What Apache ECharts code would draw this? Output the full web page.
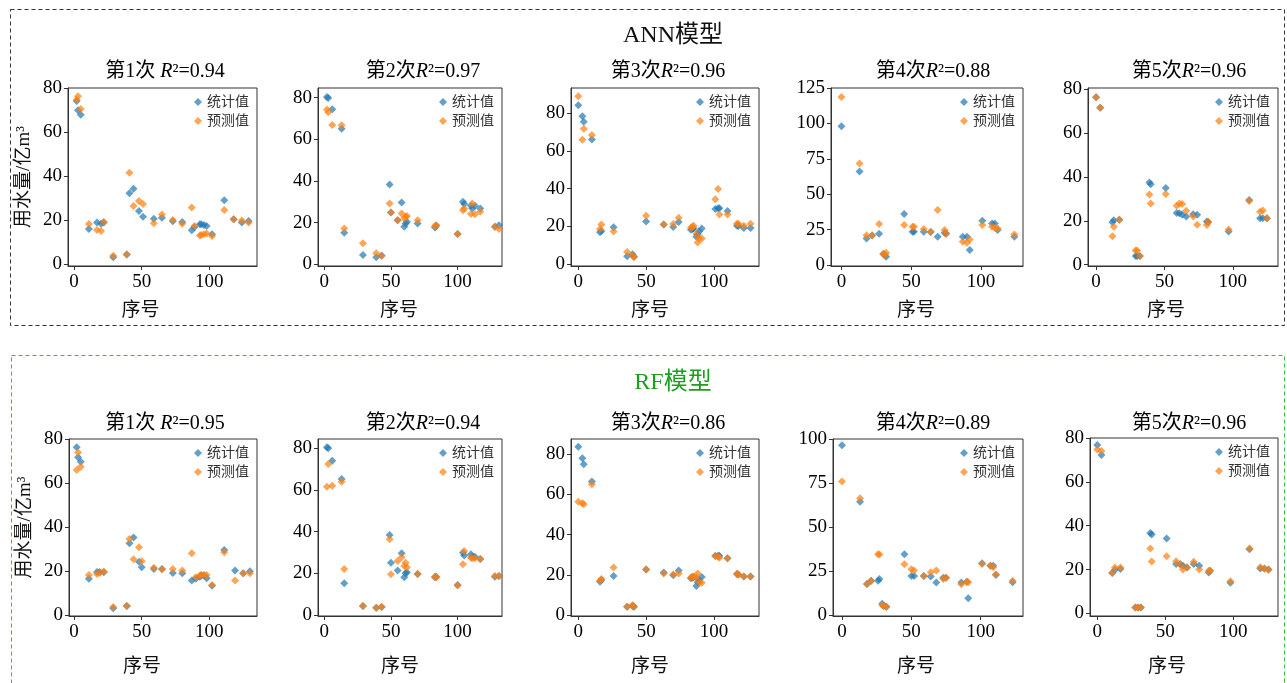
<!DOCTYPE html>
<html>
<head>
<meta charset="utf-8">
<script src="https://cdn.jsdelivr.net/npm/echarts@6/dist/echarts.min.js"></script>
<style>
html, body { margin: 0; padding: 0; background: #fff; }
#chart { width: 1287px; height: 683px; }
</style>
</head>
<body>
<div id="chart"></div>
<script>
// ---------- ANN 模型 ----------
const ann1Idx  = [2, 3, 5, 11, 17, 20, 22, 29, 39, 41, 44, 48, 51, 59, 65, 73, 80, 87, 89, 93, 94, 96, 98, 102, 111, 118, 124, 129];
const ann1Obs  = [74.1, 69.9, 67.9, 16.0, 19.0, 18.4, 19.0, 3.2, 4.4, 32.2, 34.3, 24.2, 21.6, 20.7, 21.1, 19.5, 19.2, 15.4, 16.8, 18.1, 18.1, 17.8, 17.4, 13.6, 29.1, 20.4, 19.0, 19.6];
const ann1Pred = [74.7, 76.2, 70.5, 18.3, 15.5, 15.1, 19.2, 3.9, 4.4, 41.5, 26.4, 28.7, 27.3, 18.6, 22.6, 20.1, 18.4, 25.8, 17.4, 13.1, 13.3, 13.6, 13.9, 12.8, 24.6, 20.4, 19.8, 19.0];

const ann2Idx  = [2, 3, 6, 13, 15, 29, 39, 43, 49, 50, 55, 58, 60, 61, 62, 70, 83, 84, 100, 104, 105, 110, 111, 113, 117, 128, 131];
const ann2Obs  = [80.3, 79.8, 74.4, 65.0, 15.2, 4.5, 3.4, 4.2, 38.3, 24.9, 21.2, 29.7, 18.0, 19.6, 20.4, 19.6, 17.7, 18.5, 14.5, 30.0, 28.9, 28.1, 26.8, 28.1, 26.8, 18.0, 18.8];
const ann2Pred = [74.3, 73.0, 66.9, 66.7, 17.2, 10.1, 5.3, 4.0, 29.2, 24.9, 21.2, 24.4, 22.0, 22.8, 23.2, 21.2, 18.4, 18.8, 14.5, 26.0, 26.8, 24.1, 29.2, 24.0, 25.2, 18.0, 16.9];

const ann3Idx  = [0, 3, 4, 10, 16, 17, 26, 36, 40, 41, 50, 63, 70, 74, 83, 84, 85, 87, 88, 89, 91, 101, 103, 104, 110, 117, 118, 122, 127];
const ann3Obs  = [84.2, 78.4, 75.4, 66.1, 16.9, 17.6, 19.6, 4.2, 5.3, 4.1, 22.6, 21.1, 19.7, 22.4, 18.3, 18.7, 18.9, 14.6, 15.9, 17.4, 18.9, 29.3, 29.6, 29.6, 28.2, 20.4, 20.3, 19.2, 19.2];
const ann3Pred = [89.0, 65.9, 71.7, 68.4, 18.7, 21.0, 17.3, 6.5, 4.6, 3.7, 25.7, 21.1, 21.3, 24.7, 19.4, 19.9, 20.4, 16.0, 11.6, 13.6, 13.6, 34.4, 39.8, 26.4, 26.4, 21.5, 21.5, 20.4, 21.5];

const ann4Idx  = [0, 13, 18, 22, 27, 30, 31, 32, 45, 51, 52, 59, 64, 69, 74, 75, 87, 90, 92, 101, 108, 110, 112, 124];
const ann4Obs  = [98.0, 66.0, 18.8, 20.9, 22.1, 7.8, 7.3, 5.9, 36.0, 23.5, 23.5, 23.5, 23.3, 19.9, 22.8, 22.3, 20.0, 20.0, 10.6, 31.3, 29.4, 29.4, 24.7, 20.0];
const ann4Pred = [118.7, 71.7, 21.1, 21.1, 28.9, 7.8, 7.3, 8.7, 28.2, 27.0, 27.0, 25.4, 23.5, 38.8, 24.7, 21.9, 16.4, 15.7, 18.1, 28.2, 27.0, 26.3, 25.8, 21.6];

const ann5Idx  = [0, 3, 12, 13, 17, 29, 30, 32, 39, 40, 51, 59, 61, 63, 66, 71, 74, 81, 82, 97, 112, 120, 122, 125];
const ann5Obs  = [76.3, 71.5, 19.3, 20.3, 20.5, 3.9, 3.9, 4.0, 37.4, 36.6, 34.9, 23.5, 23.4, 22.8, 22.0, 23.0, 22.8, 19.7, 19.3, 15.1, 29.5, 21.2, 21.2, 21.2];
const ann5Pred = [76.3, 71.5, 13.0, 17.3, 20.5, 6.5, 6.5, 4.0, 32.0, 27.9, 32.2, 26.8, 27.9, 27.6, 24.6, 22.0, 18.2, 18.1, 19.7, 16.0, 29.0, 24.1, 24.7, 21.2];

// ---------- RF 模型 ----------
const rf1Idx  = [2, 3, 5, 11, 17, 19, 22, 29, 39, 41, 44, 48, 50, 59, 65, 73, 80, 87, 90, 93, 94, 96, 98, 102, 111, 119, 125, 130];
const rf1Obs  = [76.2, 71.7, 69.7, 16.4, 19.5, 19.5, 19.4, 3.0, 4.1, 32.6, 35.2, 24.2, 21.7, 20.9, 20.9, 19.1, 18.9, 15.6, 16.4, 17.4, 17.9, 17.9, 16.7, 13.3, 29.5, 20.2, 18.9, 19.8];
const rf1Pred = [65.9, 73.9, 67.4, 18.2, 18.6, 19.0, 19.7, 3.6, 4.1, 34.5, 25.3, 30.8, 24.4, 21.4, 20.8, 20.9, 20.2, 28.0, 17.1, 17.9, 18.3, 18.2, 18.2, 13.6, 28.5, 15.6, 18.9, 18.9];

const rf2Idx  = [2, 3, 6, 13, 15, 29, 39, 43, 49, 50, 55, 58, 60, 61, 62, 70, 83, 84, 100, 104, 105, 110, 111, 113, 117, 128, 131];
const rf2Obs  = [80.5, 80.0, 74.1, 65.3, 15.2, 4.3, 3.5, 3.8, 38.4, 25.1, 21.3, 29.6, 18.1, 20.0, 20.5, 19.7, 18.1, 18.4, 14.4, 29.9, 28.6, 29.1, 28.0, 28.0, 26.9, 18.4, 18.7];
const rf2Pred = [61.6, 72.5, 62.1, 64.0, 22.1, 4.3, 3.5, 4.0, 36.3, 19.5, 25.9, 27.7, 23.5, 25.1, 22.9, 19.7, 18.4, 18.1, 14.1, 24.3, 30.7, 27.5, 27.2, 27.2, 26.9, 18.7, 18.7];

const rf3Idx  = [0, 3, 4, 10, 16, 17, 26, 36, 40, 41, 50, 63, 70, 74, 83, 84, 85, 87, 88, 89, 91, 101, 103, 104, 110, 117, 118, 122, 127];
const rf3Obs  = [83.8, 78.0, 75.0, 66.4, 16.6, 17.4, 19.4, 4.1, 4.5, 4.1, 22.7, 21.1, 19.8, 22.1, 18.3, 18.6, 18.8, 14.4, 16.3, 17.4, 18.9, 29.4, 29.5, 29.5, 28.2, 20.4, 20.2, 19.1, 19.1];
const rf3Pred = [56.4, 55.6, 55.1, 65.1, 17.1, 17.9, 23.7, 4.1, 5.0, 4.1, 22.7, 20.7, 20.2, 20.7, 18.6, 19.1, 19.1, 18.8, 20.7, 16.1, 16.1, 29.5, 29.0, 28.5, 28.2, 20.4, 20.2, 19.1, 19.1];

const rf4Idx  = [0, 13, 18, 21, 26, 27, 29, 30, 32, 45, 50, 52, 59, 64, 68, 73, 75, 86, 90, 91, 101, 107, 109, 111, 123];
const rf4Obs  = [96.4, 64.4, 17.6, 19.5, 19.5, 20.5, 6.3, 5.1, 4.7, 34.5, 22.2, 22.2, 22.2, 21.8, 18.4, 21.2, 21.2, 18.4, 18.9, 9.5, 29.4, 28.0, 28.0, 22.7, 18.6];
const rf4Pred = [75.8, 66.3, 17.6, 19.5, 34.5, 34.3, 5.7, 5.1, 4.7, 28.8, 25.9, 25.2, 22.2, 24.2, 25.2, 20.5, 21.2, 17.4, 18.9, 18.6, 29.0, 28.0, 27.1, 23.1, 19.5];

const rf5Idx  = [0, 3, 11, 13, 17, 28, 30, 32, 39, 40, 51, 58, 61, 63, 66, 71, 75, 82, 83, 98, 112, 120, 123, 126];
const rf5Obs  = [76.8, 72.3, 18.4, 19.9, 20.2, 2.7, 2.7, 2.7, 36.7, 36.0, 34.2, 22.5, 22.5, 21.7, 20.9, 22.5, 21.7, 18.7, 19.4, 14.0, 29.3, 20.5, 20.5, 20.0];
const rf5Pred = [74.8, 74.1, 18.5, 20.9, 20.9, 2.7, 2.7, 2.7, 29.6, 23.7, 26.1, 23.8, 22.3, 20.0, 20.9, 23.5, 20.0, 19.4, 19.4, 14.7, 29.6, 21.0, 20.3, 19.9];

const titles = ['第1次 ', '第2次', '第3次', '第4次', '第5次'];
const annR2 = ['0.94', '0.97', '0.96', '0.88', '0.96'];
const rfR2  = ['0.95', '0.94', '0.86', '0.89', '0.96'];
const xTicks = [0, 50, 100];
const yTicks80 = [0, 20, 40, 60, 80];
const yTicks125 = [0, 25, 50, 75, 100, 125];
const yTicks100 = [0, 25, 50, 75, 100];

const FONT = '"Liberation Serif", "Noto Sans CJK SC", serif';
const W = 1287;

// 每个子图的位置、坐标范围；sx 为“序号”向左的偏移
const panels = [
  { idx: ann1Idx, obs: ann1Obs, pred: ann1Pred, t: titles[0], r2: annR2[0], box: [68, 88, 189, 178], x: [-4.4, 135.2], y: [-0.8, 80], yt: yTicks80, tx: 160, ty: 57, sx: 22, ng: 36, yName: true },
  { idx: ann2Idx, obs: ann2Obs, pred: ann2Pred, t: titles[1], r2: annR2[1], box: [318, 88, 184, 178], x: [-4.7, 133.3], y: [-0.8, 84.6], yt: yTicks80, tx: 418, ty: 57, sx: 11, ng: 36 },
  { idx: ann3Idx, obs: ann3Obs, pred: ann3Pred, t: titles[2], r2: annR2[2], box: [571, 88, 188, 178], x: [-5.4, 133.2], y: [-0.9, 93.3], yt: yTicks80, tx: 663, ty: 57, sx: 15, ng: 36 },
  { idx: ann4Idx, obs: ann4Obs, pred: ann4Pred, t: titles[3], r2: annR2[3], box: [831, 88, 192, 178], x: [-7.5, 130.2], y: [-0.7, 125], yt: yTicks125, tx: 928, ty: 57, sx: 11, ng: 36 },
  { idx: ann5Idx, obs: ann5Obs, pred: ann5Pred, t: titles[4], r2: annR2[4], box: [1088, 88, 190, 178], x: [-5.9, 133.1], y: [-0.6, 80.5], yt: yTicks80, tx: 1184, ty: 57, sx: 17, ng: 36 },
  { idx: rf1Idx, obs: rf1Obs, pred: rf1Pred, t: titles[0], r2: rfR2[0], box: [69, 439, 188, 177], x: [-3.7, 135.2], y: [-0.5, 80], yt: yTicks80, tx: 160, ty: 409, sx: 21, ng: 42, yName: true },
  { idx: rf2Idx, obs: rf2Obs, pred: rf2Pred, t: titles[1], r2: rfR2[1], box: [318, 439, 184, 177], x: [-4.7, 133.3], y: [-0.5, 84.5], yt: yTicks80, tx: 418, ty: 409, sx: 10, ng: 42 },
  { idx: rf3Idx, obs: rf3Obs, pred: rf3Pred, t: titles[2], r2: rfR2[2], box: [571, 439, 188, 177], x: [-5.4, 133.2], y: [-0.5, 87.6], yt: yTicks80, tx: 663, ty: 409, sx: 15, ng: 42 },
  { idx: rf4Idx, obs: rf4Obs, pred: rf4Pred, t: titles[3], r2: rfR2[3], box: [833, 439, 190, 177], x: [-6.5, 130.5], y: [-0.6, 100], yt: yTicks100, tx: 928, ty: 409, sx: 12, ng: 42 },
  { idx: rf5Idx, obs: rf5Obs, pred: rf5Pred, t: titles[4], r2: rfR2[4], box: [1090, 438, 188, 178], x: [-5.4, 133], y: [-1.2, 80], yt: yTicks80, tx: 1184, ty: 409, sx: 17, ng: 42 }
];

const grid = [], xAxis = [], yAxis = [], series = [], legend = [];
const title = [
  { text: 'ANN模型', left: 668, top: 19, textAlign: 'center', textStyle: { fontSize: 24, fontWeight: 'normal', color: '#111', fontFamily: FONT } },
  { text: 'RF模型', left: 668, top: 366, textAlign: 'center', textStyle: { fontSize: 24, fontWeight: 'normal', color: '#1e9e1e', fontFamily: FONT } }
];

panels.forEach((p, i) => {
  const [l, t, w, h] = p.box;
  grid.push({ left: l, top: t, width: w, height: h, show: true, borderColor: '#333', borderWidth: 1, backgroundColor: 'transparent' });
  xAxis.push({
    gridIndex: i, type: 'value', min: p.x[0], max: p.x[1],
    axisLine: { show: true, onZero: false, lineStyle: { color: '#333' } },
    axisTick: { show: true, length: 4, customValues: xTicks, lineStyle: { color: '#333' } },
    axisLabel: { customValues: xTicks, fontSize: 19, color: '#000', margin: 7, fontFamily: FONT },
    splitLine: { show: false },
    name: '序号', nameLocation: 'middle', nameGap: p.ng,
    nameTextStyle: { fontSize: 19, color: '#111', fontFamily: FONT, padding: [0, p.sx * 2, 0, 0] }
  });
  yAxis.push({
    gridIndex: i, type: 'value', min: p.y[0], max: p.y[1],
    axisLine: { show: true, onZero: false, lineStyle: { color: '#333' } },
    axisTick: { show: true, length: 4, customValues: p.yt, lineStyle: { color: '#333' } },
    axisLabel: { customValues: p.yt, fontSize: 19, color: '#000', margin: 6, fontFamily: FONT },
    splitLine: { show: false },
    name: p.yName ? '用水量/亿m³' : '', nameLocation: 'middle', nameGap: 34,
    nameTextStyle: { fontSize: 19, color: '#111', fontFamily: FONT }
  });
  series.push({
    type: 'scatter', name: '统计值', xAxisIndex: i, yAxisIndex: i,
    data: p.idx.map((x, k) => [x, p.obs[k]]),
    symbol: 'diamond', symbolSize: 8, silent: true,
    itemStyle: { color: '#1f77b4', opacity: 0.7 }
  });
  series.push({
    type: 'scatter', name: '预测值', xAxisIndex: i, yAxisIndex: i,
    data: p.idx.map((x, k) => [x, p.pred[k]]),
    symbol: 'diamond', symbolSize: 8, silent: true,
    itemStyle: { color: '#ff7f0e', opacity: 0.7 }
  });
  legend.push({
    orient: 'vertical', right: W - (l + w) + 8, top: t + 7,
    itemWidth: 8, itemHeight: 8, itemGap: 5, padding: 0,
    textStyle: { fontSize: 14, color: '#333', fontFamily: FONT },
    data: ['统计值', '预测值']
  });
  title.push({
    text: '{a|' + p.t + '}{r|R}{a|²=' + p.r2 + '}',
    left: p.tx, top: p.ty, textAlign: 'center',
    textStyle: {
      fontWeight: 'normal',
      rich: {
        a: { fontSize: 20, color: '#000', fontWeight: 'normal', fontFamily: FONT },
        r: { fontSize: 20, color: '#000', fontWeight: 'normal', fontStyle: 'italic', fontFamily: FONT }
      }
    }
  });
});

const chart = echarts.init(document.getElementById('chart'));
chart.setOption({
  backgroundColor: '#fff',
  animation: false,
  title: title,
  legend: legend,
  grid: grid,
  xAxis: xAxis,
  yAxis: yAxis,
  series: series,
  graphic: [
    { type: 'rect', silent: true, shape: { x: 10.5, y: 9.5, width: 1274, height: 316 },
      style: { fill: 'none', stroke: '#333', lineWidth: 1, lineDash: [4, 3] } },
    { type: 'rect', silent: true, shape: { x: 11.5, y: 355.5, width: 1273, height: 340 },
      style: { fill: 'none', stroke: '#3cb83c', lineWidth: 1, lineDash: [4, 3] } }
  ]
});
</script>
</body>
</html>
